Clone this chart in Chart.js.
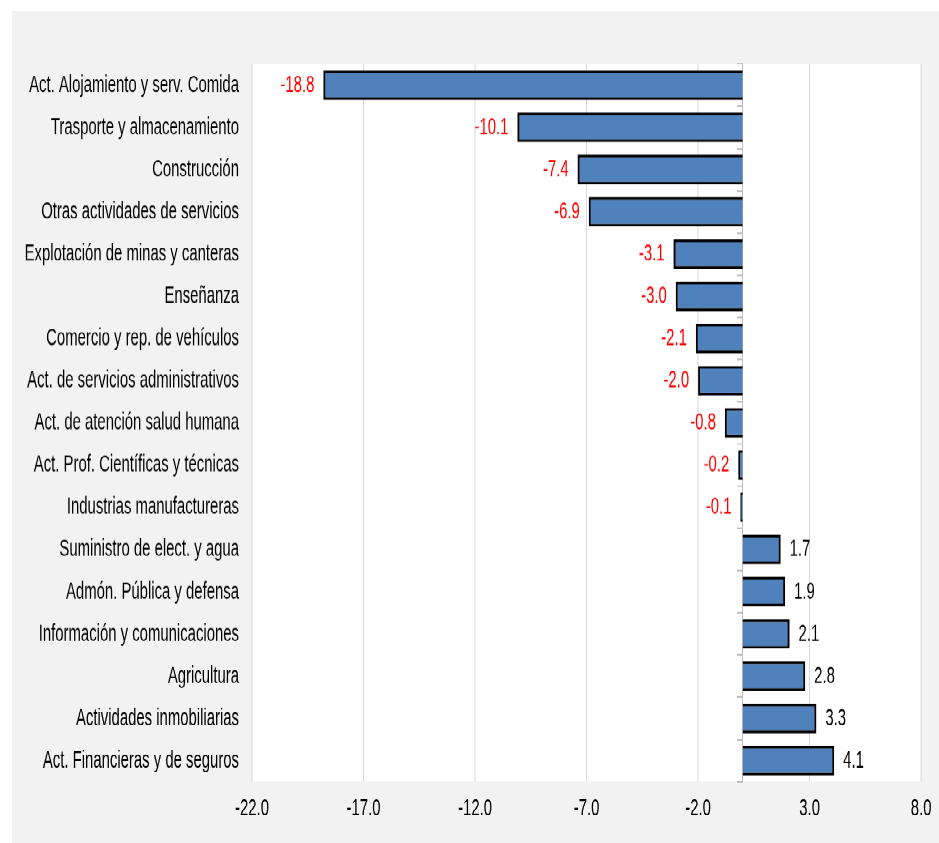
<!DOCTYPE html>
<html>
<head>
<meta charset="utf-8">
<script src="https://cdn.jsdelivr.net/npm/chart.js@4/dist/chart.umd.min.js"></script>
<style>
    body {
        margin: 0;
        background: #ffffff;
        width: 939px;
        height: 843px;
        overflow: hidden;
    }

    /* el grafico original esta estirado en vertical, se dibuja mas bajo y se escala */
    #div_panel {
        position: absolute;
        left: 12px;
        top: 11px;
        width: 927px;
        height: 513.6px;
        background: #f2f2f2;
        transform: scaleY(1.62);
        transform-origin: top left;
    }
</style>
</head>
<body>
<div id="div_panel">
    <canvas id="myChart"></canvas>
</div>

<script>
var categorias = [
    'Act. Alojamiento y serv. Comida',
    'Trasporte y almacenamiento',
    'Construcción',
    'Otras actividades de servicios',
    'Explotación de minas y canteras',
    'Enseñanza',
    'Comercio y rep. de vehículos',
    'Act. de servicios administrativos',
    'Act. de atención salud humana',
    'Act. Prof. Científicas y técnicas',
    'Industrias manufactureras',
    'Suministro de elect. y agua',
    'Admón. Pública y defensa',
    'Información y comunicaciones',
    'Agricultura',
    'Actividades inmobiliarias',
    'Act. Financieras y de seguros'
];

var valores = [-18.8, -10.1, -7.4, -6.9, -3.1, -3.0, -2.1, -2.0, -0.8, -0.2, -0.1, 1.7, 1.9, 2.1, 2.8, 3.3, 4.1];

var marcas_x = [-22, -17, -12, -7, -2, 3, 8];

var fonte = "'Liberation Sans', Arial, sans-serif";
var tamanho_fonte = 14.9;

// fundo branco so na area do grafico
var plugin_fundo = {
    id: 'fundo',
    beforeDraw: function (chart) {
        var a = chart.chartArea;
        chart.ctx.save();
        chart.ctx.fillStyle = '#ffffff';
        chart.ctx.fillRect(a.left, a.top, a.right - a.left, a.bottom - a.top);
        chart.ctx.restore();
    }
}

// rotulos dos valores: negativos em vermelho a esquerda, positivos em preto a direita
var plugin_rotulos = {
    id: 'rotulos',
    afterDatasetsDraw: function (chart) {
        var ctx = chart.ctx;
        var meta = chart.getDatasetMeta(0);
        ctx.save();
        ctx.font = tamanho_fonte + 'px ' + fonte;
        ctx.textBaseline = 'middle';
        for (let i = 0; i < meta.data.length; i++) {
            var barra = meta.data[i];
            var valor = valores[i];
            if (valor < 0) {
                ctx.fillStyle = '#ff0000';
                ctx.textAlign = 'right';
                ctx.fillText(valor.toFixed(1), barra.x - 9, barra.y);
            } else {
                ctx.fillStyle = '#000000';
                ctx.textAlign = 'left';
                ctx.fillText(valor.toFixed(1), barra.x + 9, barra.y);
            }
        }
        ctx.restore();
    }
}

function graf1() {
    const data = {
        labels: categorias,
        datasets: [{
            data: valores,
            backgroundColor: '#4f81bd',
            borderColor: '#000000',
            borderWidth: { top: 1.7, bottom: 1.7, left: 2, right: 2 },
            barPercentage: 0.7,
            categoryPercentage: 1
        }]
    };

    const config = {
        type: 'bar',
        data: data,
        plugins: [plugin_fundo, plugin_rotulos],
        options: {
            indexAxis: 'y',
            responsive: true,
            maintainAspectRatio: false,
            animation: false,
            devicePixelRatio: 2,
            layout: {
                padding: { top: 32.7, right: 13, left: 0, bottom: 0 }
            },
            plugins: {
                legend: { display: false },
                tooltip: { enabled: false }
            },
            scales: {
                x: {
                    type: 'linear',
                    min: -22,
                    max: 8,
                    afterBuildTicks: function (scale) {
                        scale.ticks = marcas_x.map(function (v) { return { value: v } });
                    },
                    afterFit: function (scale) {
                        scale.height = 38.3;
                    },
                    grid: {
                        color: '#d9d9d9',
                        lineWidth: 1,
                        drawTicks: false
                    },
                    border: { display: false },
                    ticks: {
                        padding: 7.5,
                        color: '#000000',
                        font: { family: fonte, size: tamanho_fonte },
                        callback: function (v) { return Number(v).toFixed(1) }
                    }
                },
                y: {
                    type: 'category',
                    afterFit: function (scale) {
                        scale.width = 240;
                    },
                    grid: { display: false, drawTicks: false },
                    border: { display: false },
                    ticks: {
                        autoSkip: false,
                        padding: 13,
                        color: '#000000',
                        font: { family: fonte, size: tamanho_fonte }
                    }
                },
                // eixo do zero com as marquinhas entre categorias
                y2: {
                    type: 'category',
                    axis: 'y',
                    position: { x: 0 },
                    offset: true,
                    grid: {
                        offset: true,
                        drawOnChartArea: false,
                        tickLength: 5,
                        color: '#bfbfbf'
                    },
                    border: { color: '#bfbfbf', width: 1 },
                    ticks: { display: false }
                }
            }
        }
    };

    const myChart = new Chart(
        document.getElementById('myChart'),
        config
    );
}

graf1();
</script>
</body>
</html>
